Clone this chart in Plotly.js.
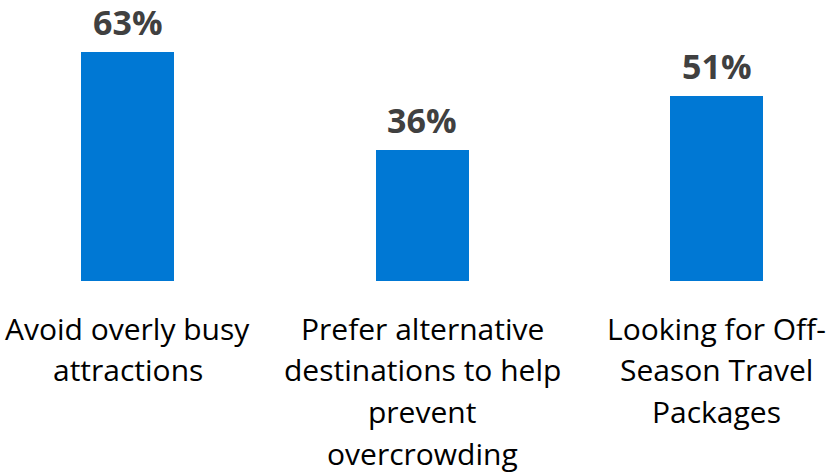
<!DOCTYPE html>
<html>
<head>
<meta charset="utf-8">
<script src="https://cdn.plot.ly/plotly-3.0.1.min.js"></script>
<style>html,body{margin:0;padding:0;background:#fff;}#chart{width:830px;height:475px;}</style>
</head>
<body>
<div id="chart"></div>
<script>
const categories = ["Avoid overly busy<br>attractions", "Prefer alternative<br>destinations to help<br>prevent<br>overcrowding", "Looking for Off-<br>Season Travel<br>Packages"];
const values = [63, 36, 51];
const valueLabels = ["63%", "36%", "51%"];

const xIdx = categories.map((c, i) => i);

const annotations = [];
// value labels above bars
values.forEach((v, i) => {
  annotations.push({
    x: xIdx[i], y: v, xref: 'x', yref: 'y',
    text: valueLabels[i], showarrow: false,
    xanchor: 'center', yanchor: 'middle', yshift: 30,
    borderpad: 0,
    font: {family: 'Open Sans', size: 34, color: '#404040', weight: 'bold'}
  });
});
// category labels, one line per annotation for exact spacing
categories.forEach((c, i) => {
  c.split('<br>').forEach((line, j) => {
    annotations.push({
      x: xIdx[i], y: 0, xref: 'x', yref: 'paper',
      text: line, showarrow: false,
      xanchor: 'center', yanchor: 'middle', yshift: -(47 + j * 41.7),
      font: {family: 'Open Sans', size: 30, color: '#000'}
    });
  });
});

Plotly.newPlot('chart', [{
  type: 'bar',
  x: xIdx,
  y: values,
  width: 0.316,
  marker: {color: '#0078D4'},
  cliponaxis: false,
  hoverinfo: 'none'
}], {
  width: 830, height: 475,
  margin: {l: 0, r: 0, t: 0, b: 194},
  paper_bgcolor: '#fff', plot_bgcolor: '#fff',
  showlegend: false,
  annotations: annotations,
  xaxis: {
    range: [-0.433, 2.385],
    showticklabels: false,
    showgrid: false, zeroline: false, showline: false, ticks: '',
    fixedrange: true
  },
  yaxis: {range: [0, 77.3], visible: false, fixedrange: true},
  bargap: 0
}, {displayModeBar: false, staticPlot: true});
</script>
</body>
</html>
